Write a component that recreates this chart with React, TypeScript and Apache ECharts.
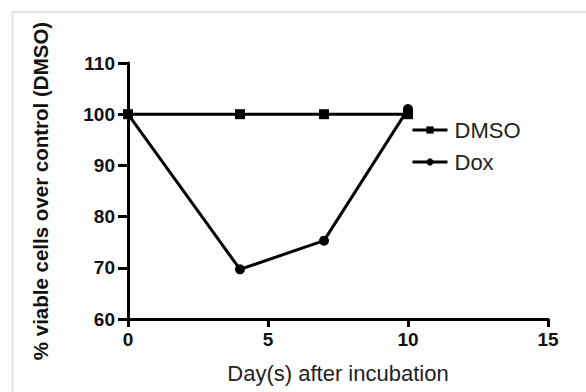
import React, { useEffect, useRef } from "react";
import * as echarts from "echarts";

const days = [0, 4, 7, 10];
const dmsoValues = [100, 100, 100, 100];
const doxValues = [100, 69.7, 75.3, 101];
const seriesNames = ["DMSO", "Dox"];
const xTitle = "Day(s) after incubation";
const yTitle = "% viable cells over control (DMSO)";

const FONT = "'Liberation Sans', Arial, Helvetica, sans-serif";

export default function App() {
  const ref = useRef<HTMLDivElement>(null);
  useEffect(() => {
    if (!ref.current) return;
    const chart = echarts.init(ref.current, undefined, { renderer: "svg" });
    const axisCommon = {
      type: "value" as const,
      splitLine: { show: false },
      axisLine: { show: true, onZero: false, lineStyle: { color: "#000", width: 3 } },
      axisTick: { show: true, lineStyle: { color: "#000", width: 3 } },
      axisLabel: { color: "#111", fontSize: 19, fontWeight: "bold" as const, fontFamily: FONT },
    };
    chart.setOption({
      animation: false,
      backgroundColor: "#fff",
      textStyle: { fontFamily: FONT },
      graphic: [
        {
          type: "rect",
          shape: { x: 12.5, y: 12, width: 700, height: 500 },
          style: { fill: "none", stroke: "#e4e4e4", lineWidth: 2 },
          silent: true,
        },
      ],
      grid: { left: 128, right: 38, top: 63, bottom: 73, containLabel: false },
      xAxis: {
        ...axisCommon,
        min: 0,
        max: 15,
        interval: 5,
        axisTick: { ...axisCommon.axisTick, length: 8 },
        axisLabel: { ...axisCommon.axisLabel, margin: 11 },
        name: xTitle,
        nameLocation: "middle",
        nameGap: 43,
        nameTextStyle: { color: "#222", fontSize: 22, fontFamily: FONT },
      },
      yAxis: {
        ...axisCommon,
        min: 60,
        max: 110,
        interval: 10,
        axisTick: { ...axisCommon.axisTick, length: 10 },
        axisLabel: { ...axisCommon.axisLabel, margin: 13 },
        name: yTitle,
        nameLocation: "middle",
        nameGap: 77,
        nameRotate: 90,
        nameTextStyle: { color: "#111", fontSize: 20.5, fontWeight: "bold", fontFamily: FONT },
      },
      legend: {
        orient: "vertical",
        left: 406,
        top: 114,
        itemWidth: 35,
        itemHeight: 9,
        itemGap: 10,
        lineStyle: { width: 3, color: "#000" },
        textStyle: { color: "#222", fontSize: 22, fontFamily: FONT, padding: [0, 0, 0, 2] },
        data: seriesNames,
      },
      series: [
        {
          name: seriesNames[0],
          type: "line",
          data: days.map((d, i) => [d, dmsoValues[i]]),
          symbol: "rect",
          symbolSize: 10,
          lineStyle: { color: "#000", width: 3 },
          itemStyle: { color: "#000" },
          z: 2,
        },
        {
          name: seriesNames[1],
          type: "line",
          data: days.map((d, i) => [d, doxValues[i]]),
          symbol: "circle",
          symbolSize: 10,
          lineStyle: { color: "#000", width: 3 },
          itemStyle: { color: "#000" },
          z: 3,
        },
      ],
    });
    return () => chart.dispose();
  }, []);
  return (
    <div
      ref={ref}
      style={{ position: "fixed", left: 0, top: 0, width: 586, height: 392 }}
    />
  );
}
